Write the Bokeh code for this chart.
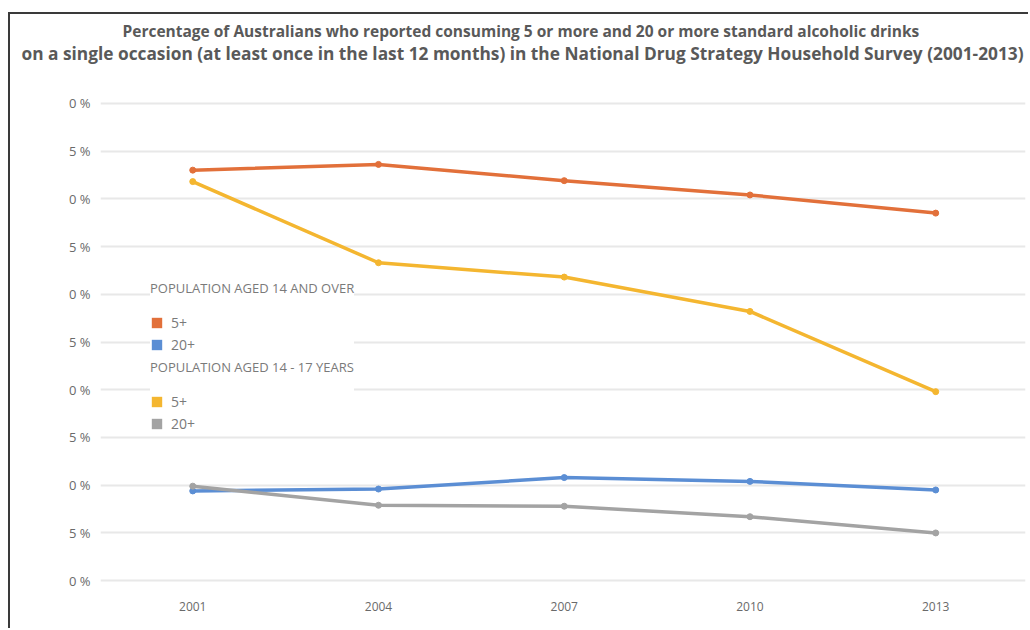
from bokeh.plotting import figure
from bokeh.models import Legend, LegendItem, Title, FixedTicker, Range1d
from bokeh.embed import file_html
from bokeh.resources import INLINE

# ---- data ----
years = [2001, 2004, 2007, 2010, 2013]
adult_5plus = [43.0, 43.6, 41.9, 40.4, 38.5]     # population aged 14 and over, 5+
adult_20plus = [9.4, 9.6, 10.8, 10.4, 9.5]       # population aged 14 and over, 20+
teen_5plus = [41.8, 33.3, 31.8, 28.2, 19.8]      # population aged 14-17, 5+
teen_20plus = [9.9, 7.9, 7.8, 6.7, 5.0]          # population aged 14-17, 20+
y_ticks = [0, 5, 10, 15, 20, 25, 30, 35, 40, 45, 50]
y_tick_labels = ["0 %", "5 %", "0 %", "5 %", "0 %", "5 %", "0 %", "5 %", "0 %", "5 %", "0 %"]
x_tick_labels = ["2001", "2004", "2007", "2010", "2013"]
title_line1 = "Percentage of Australians who reported consuming 5 or more and 20 or more standard alcoholic drinks"
title_line2 = "on a single occasion (at least once in the last 12 months) in the National Drug Strategy Household Survey (2001-2013)"
legend1_title = "POPULATION AGED 14 AND OVER"
legend2_title = "POPULATION AGED 14 - 17 YEARS"

C_ORANGE = "#E2703A"
C_BLUE = "#5B8ED4"
C_YELLOW = "#F4B630"
C_GRAY = "#A3A3A3"
FONT = "Open Sans"
NAN = float("nan")

p = figure(width=1020, height=616, output_backend="svg", toolbar_location=None,
           x_range=Range1d(1999.51, 2014.45), y_range=Range1d(-0.4, 50.4),
           min_border_left=90, min_border_right=5, min_border_top=85, min_border_bottom=46,
           margin=(12, 0, 0, 8),
           styles={"border-top": "2px solid #3a3a3a", "border-left": "2px solid #3a3a3a"})
p.outline_line_color = None
p.background_fill_color = "white"
p.border_fill_color = "white"

# titles: stacked upward from the plot frame (white spacer, line 2, line 1)
spacer = Title(text=".", text_font=FONT, text_font_size="10px", text_color="#ffffff", standoff=23)
t2 = Title(text=title_line2, align="left", offset=-79, vertical_align="top",
           text_font=FONT, text_font_size="17.3px", text_font_style="bold",
           text_color="#595959", standoff=0)
t1 = Title(text=title_line1, align="left", offset=22, vertical_align="bottom",
           text_font=FONT, text_font_size="15.5px", text_font_style="bold",
           text_color="#595959", standoff=0)
p.add_layout(spacer, "above")
p.add_layout(t2, "above")
p.add_layout(t1, "above")

# axes
p.xaxis.ticker = FixedTicker(ticks=years)
p.xaxis.major_label_overrides = {y: l for y, l in zip(years, x_tick_labels)}
p.yaxis.ticker = FixedTicker(ticks=y_ticks)
p.yaxis.major_label_overrides = {t: l for t, l in zip(y_ticks, y_tick_labels)}
for ax in (p.xaxis, p.yaxis):
    ax.axis_line_color = None
    ax.major_tick_line_color = None
    ax.minor_tick_line_color = None
    ax.major_label_text_font = FONT
    ax.major_label_text_color = "#6a6a6a"
p.xaxis.major_label_text_font_size = "12px"
p.yaxis.major_label_text_font_size = "13px"
p.xaxis.major_label_standoff = 11
p.yaxis.major_label_standoff = 4

p.xgrid.grid_line_color = None
p.ygrid.grid_line_color = "#e8e8e8"
p.ygrid.grid_line_width = 2

# series
series = [(adult_5plus, C_ORANGE), (teen_5plus, C_YELLOW), (adult_20plus, C_BLUE), (teen_20plus, C_GRAY)]
for vals, col in series:
    p.line(years, vals, line_color=col, line_width=3.5)
    p.scatter(years, vals, marker="circle", size=6, fill_color=col, line_color=col)

# legend swatches (invisible box renderers)
sw = {}
for name, col in [("a5", C_ORANGE), ("a20", C_BLUE), ("t5", C_YELLOW), ("t20", C_GRAY)]:
    sw[name] = p.quad(left=[NAN], right=[NAN], top=[NAN], bottom=[NAN],
                      fill_color=col, line_color=None)

def make_legend(title, items, loc):
    lg = Legend(items=items, location=loc, title=title,
                title_text_font=FONT, title_text_font_size="13px", title_text_color="#7a7a7a",
                title_text_font_style="normal", title_standoff=16,
                label_text_font=FONT, label_text_font_size="14px", label_text_color="#7a7a7a",
                glyph_width=13, glyph_height=13, label_height=13, label_standoff=8,
                spacing=3, padding=3, margin=0,
                background_fill_color="white", background_fill_alpha=1.0,
                border_line_color=None)
    p.add_layout(lg, "center")

make_legend(legend1_title, [LegendItem(label="5+", renderers=[sw["a5"]]),
                            LegendItem(label="20+", renderers=[sw["a20"]])], (50, 230))
make_legend(legend2_title, [LegendItem(label="5+", renderers=[sw["t5"]]),
                            LegendItem(label="20+", renderers=[sw["t20"]])], (50, 151))

open("out.html", "w").write(file_html(p, INLINE))
